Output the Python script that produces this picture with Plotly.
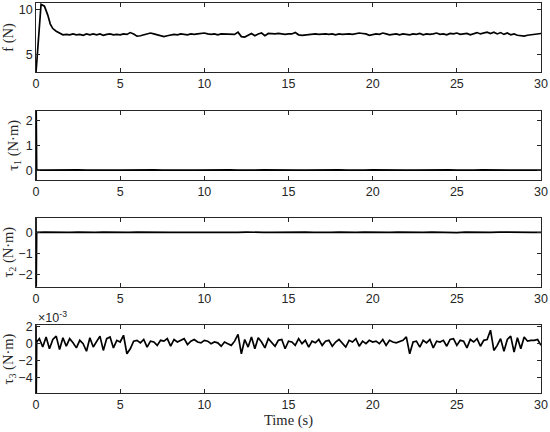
import numpy as np
import plotly.graph_objects as go
from plotly.subplots import make_subplots

# ------------------------------------------------------------
# Data
# ------------------------------------------------------------
# thrust f (N): start-up transient, then samples every 0.2 s from 1.6 s
f_t_start = [0.0, 0.3, 0.5, 0.7, 0.85, 1.0, 1.2, 1.4]
f_start = [3.0, 10.6, 10.4, 9.4, 8.4, 7.9, 7.6, 7.35]
f_steady = [
    7.2, 7.25, 7.2, 7.3, 7.2, 7.25, 7.15, 7.3, 7.2, 7.3,
    7.2, 7.3, 7.15, 7.25, 7.3, 7.2, 7.25, 7.2, 7.3, 7.25,
    7.45, 7.3, 7.05, 7.1, 7.2, 7.3, 7.4, 7.3, 7.2, 7.1,
    7.0, 7.1, 7.2, 7.25, 7.2, 7.3, 7.25, 7.2, 7.3, 7.25,
    7.3, 7.35, 7.4, 7.3, 7.25, 7.3, 7.2, 7.3, 7.3, 7.25,
    7.3, 7.25, 7.5, 7.0, 6.95, 7.2, 7.35, 7.1, 7.3, 7.4,
    7.1, 7.35, 7.3, 7.3, 7.35, 7.3, 7.25, 7.3, 7.3, 7.45,
    7.2, 7.15, 7.2, 7.2, 7.25, 7.3, 7.25, 7.3, 7.3, 7.25,
    7.3, 7.2, 7.3, 7.25, 7.3, 7.3, 7.25, 7.35, 7.4, 7.35,
    7.3, 7.15, 7.2, 7.3, 7.25, 7.4, 7.3, 7.2, 7.25, 7.3,
    7.2, 7.3, 7.25, 7.2, 7.3, 7.25, 7.35, 7.2, 7.3, 7.25,
    7.3, 7.4, 7.25, 7.3, 7.2, 7.35, 7.3, 7.4, 7.25, 7.3,
    7.35, 7.2, 7.3, 7.45, 7.3, 7.4, 7.5, 7.35, 7.5, 7.3,
    7.45, 7.25, 7.4, 7.2, 7.3, 7.15, 7.1, 7.05, 7.15, 7.2,
    7.3, 7.35, 7.35,
]
f_steady_t0, f_dt = 1.6, 0.2

# tau1, tau2 (N.m): spike at t = 0, then ~0 sampled every 0.5 s
tau_t_start = [0.0, 0.01, 0.02, 0.04]
tau1_start = [-0.6, 2.6, -0.6, 0.0]
tau2_start = [0.8, -2.8, 0.8, 0.0]
tau_slow_t0, tau_slow_dt = 0.5, 0.5
tau1_steady = [
    0.0, 0.01, -0.01, 0.0, 0.01, 0.0, -0.01, 0.01, 0.0, 0.0,
    0.01, -0.01, 0.0, 0.01, 0.0, 0.01, -0.01, 0.0, 0.0, 0.01,
    -0.01, 0.0, 0.01, 0.0, -0.01, 0.0, 0.01, 0.0, -0.01, 0.01,
    0.0, 0.0, 0.01, -0.01, 0.0, 0.01, 0.0, -0.01, 0.0, 0.01,
    0.0, -0.01, 0.01, 0.0, 0.0, 0.01, -0.01, 0.0, 0.01, 0.0,
    -0.01, 0.0, 0.01, 0.0, -0.01, 0.01, 0.0, 0.0, -0.01, 0.0,
]
tau2_steady = [
    0.01, 0.0, -0.01, 0.0, 0.01, -0.01, 0.0, 0.01, 0.0, -0.01,
    0.0, 0.01, 0.0, -0.01, 0.01, 0.0, 0.0, -0.01, 0.01, 0.0,
    0.0, -0.01, 0.01, 0.0, 0.01, -0.01, 0.0, 0.0, 0.01, -0.01,
    0.0, 0.01, 0.0, -0.01, 0.0, 0.01, -0.01, 0.0, 0.01, 0.0,
    -0.01, 0.0, 0.01, 0.0, -0.01, 0.0, 0.01, 0.0, 0.0, -0.01,
    0.01, 0.0, -0.01, 0.0, 0.01, 0.0, -0.01, 0.01, 0.0, 0.0,
]

# tau3 (x1e-3 N.m): spike at t = 0, then samples every 0.2 s from 0.2 s
tau3_start = [3.0, -7.0, 3.0, 0.2]
tau3_steady_t0, tau3_dt = 0.2, 0.2
tau3_steady = [
    0.6, -0.4, 0.8, -0.6, 0.5, 0.9, -0.7, 0.7, -0.3, 0.6,
    0.1, -0.5, 0.4, 0.0, -0.9, 0.7, -0.4, 0.2, 0.9, -0.8,
    0.6, 0.8, -0.5, 0.4, 0.2, 1.0, -1.2, -0.6, 0.3, 0.4,
    0.1, 0.5, -0.4, 0.3, 0.2, -0.2, 0.4, 0.3, 0.6, -0.3,
    0.5, 0.2, 0.4, 0.6, -0.1, 0.3, 0.5, 0.2, 0.1, 0.4,
    0.3, 0.0, 0.2, 0.1, -0.3, 0.2, 0.0, -0.2, 0.3, 1.1,
    -1.2, 0.5, -0.4, 0.8, -0.6, 0.7, 0.2, -0.5, 0.6, 0.1,
    -0.3, 0.4, 0.5, -0.6, 0.3, 0.2, -0.2, 0.6, 0.0, 0.4,
    -0.4, 0.3, 0.1, 0.5, -0.2, 0.3, 0.4, -0.3, 0.2, 0.5,
    0.1, -0.4, 0.4, 0.2, 0.6, -0.3, 0.3, 0.0, 0.4, 0.2,
    0.3, 0.0, 0.5, -0.2, 0.4, 0.2, 0.1, 0.3, 0.4, 0.8,
    -1.2, 0.2, 0.3, -0.4, 0.4, 0.1, 0.5, -0.5, 0.3, 0.2,
    0.4, -0.3, 0.5, 0.6, -0.2, 0.4, 0.3, -0.5, 0.5, 0.2,
    0.6, -0.3, 0.4, 0.5, 1.6, -0.8, -0.2, 0.6, -0.9, 0.5,
    0.9, -1.0, 0.7, -0.6, 0.8, 0.3, 0.4, 0.4, 0.5, -0.2,
]


def times(t0, dt, n):
    return list(np.round(t0 + dt * np.arange(n), 3))


series = [
    (f_t_start + times(f_steady_t0, f_dt, len(f_steady)), f_start + f_steady),
    (tau_t_start + times(tau_slow_t0, tau_slow_dt, len(tau1_steady)), tau1_start + tau1_steady),
    (tau_t_start + times(tau_slow_t0, tau_slow_dt, len(tau2_steady)), tau2_start + tau2_steady),
    (tau_t_start + times(tau3_steady_t0, tau3_dt, len(tau3_steady)), tau3_start + tau3_steady),
]

y_titles = ["f (N)", "τ<sub>1</sub> (N·m)", "τ<sub>2</sub> (N·m)", "τ<sub>3</sub> (N·m)"]
y_ranges = [[3.05, 10.75], [-0.4, 2.42], [-2.6, 0.7], [-5.85, 2.2]]
y_ticks = [[5, 10], [0, 1, 2], [-2, -1, 0], [-4, -2, 0, 2]]
x_ticks = [0, 5, 10, 15, 20, 25, 30]

# ------------------------------------------------------------
# Figure
# ------------------------------------------------------------
AXIS = "#262626"
TICK_FONT = dict(family="Liberation Sans, Arial, sans-serif", size=12.5, color=AXIS)
SERIF = dict(family="Liberation Serif, Times New Roman, serif", size=14.5, color=AXIS)

fig = make_subplots(rows=4, cols=1, vertical_spacing=0.0)
domains = [[0.823, 1.0], [0.546, 0.724], [0.2726, 0.4495], [0.0, 0.174]]

for i, (t, y) in enumerate(series):
    r = i + 1
    fig.add_trace(go.Scatter(
        x=t, y=y, mode="lines",
        line=dict(color="black", width=1.7),
        showlegend=False, hoverinfo="skip",
    ), row=r, col=1)
    fig.update_yaxes(
        domain=domains[i], range=y_ranges[i], tickvals=y_ticks[i],
        title=dict(text=y_titles[i], font=SERIF, standoff=3),
        row=r, col=1,
    )
    fig.update_xaxes(range=[0, 30], tickvals=x_ticks, row=r, col=1)

fig.update_xaxes(title=dict(text="Time (s)", font=SERIF, standoff=1), row=4, col=1)

common = dict(
    showline=True, linecolor=AXIS, linewidth=0.8, mirror="ticks",
    ticks="inside", ticklen=4, tickwidth=0.8, tickcolor=AXIS,
    showgrid=False, zeroline=False, tickfont=TICK_FONT, automargin=False,
)
fig.update_xaxes(**common)
fig.update_yaxes(**common)

fig.add_annotation(
    text="×10<sup>-3</sup>", xref="paper", yref="paper",
    x=0.0, y=0.174, xanchor="left", yanchor="bottom", showarrow=False,
    font=TICK_FONT, yshift=-2,
)

fig.update_layout(
    width=550, height=432,
    margin=dict(l=36, r=9, t=3, b=39),
    paper_bgcolor="white", plot_bgcolor="white",
)

fig.write_html(
    "out.html",
    config={"displayModeBar": False},
    post_script="document.body.style.margin='0';",
)
